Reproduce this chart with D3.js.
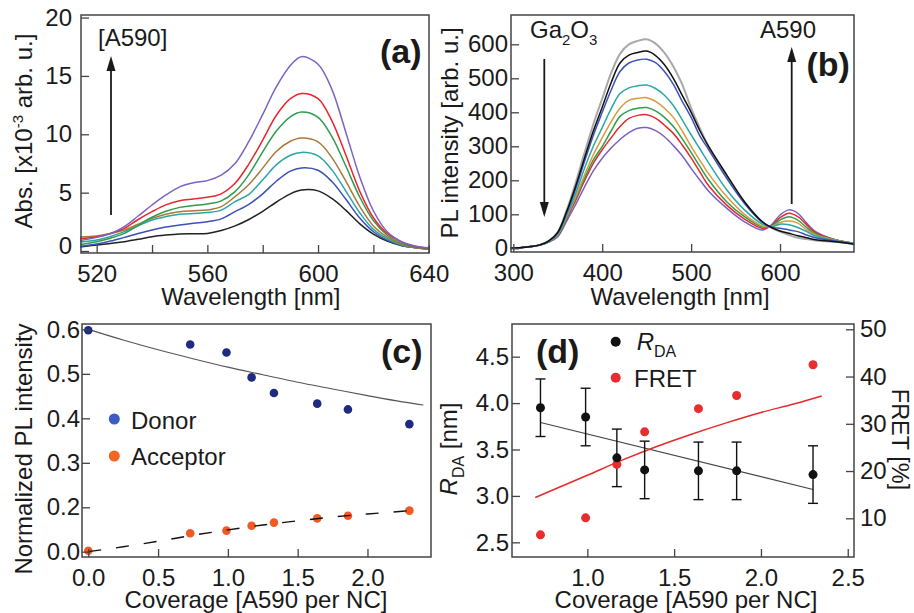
<!DOCTYPE html>
<html>
<head>
<meta charset="utf-8">
<script src="https://cdn.jsdelivr.net/npm/d3@7"></script>
<style>
  body { margin: 0; background: #fff; }
  svg text { font-family: "Liberation Sans", Arial, Helvetica, sans-serif; fill: #1a1a1a; }
</style>
</head>
<body>
<svg id="fig" width="914" height="613"></svg>
<script>
// ---------- (a) absorbance spectra of the acceptor dye ----------
const absWavelengths = [514, 520, 525, 530, 535, 540, 545, 550, 555, 560, 565, 570, 575, 580, 585, 590, 594, 600, 605, 610, 615, 620, 625, 630, 635, 640];
const absBlack  = [0.35,0.51,0.65,0.8,1.0,1.23,1.37,1.46,1.48,1.51,1.75,2.15,2.7,3.4,4.2,4.9,5.22,5.15,4.5,3.5,2.35,1.45,0.85,0.48,0.3,0.18];
const absBlue   = [0.4,0.6,0.85,1.17,1.5,1.8,2.05,2.23,2.38,2.51,2.75,3.37,4.0,4.9,6.0,6.85,7.12,6.92,5.95,4.45,2.85,1.65,0.93,0.5,0.28,0.15];
const absCyan   = [0.78,0.94,1.25,1.66,2.15,2.66,2.95,3.14,3.22,3.29,3.5,4.23,4.85,6.1,7.4,8.2,8.45,8.15,6.95,5.15,3.3,1.85,1.05,0.54,0.3,0.18];
const absBrown  = [1.2,1.29,1.5,1.8,2.3,2.8,3.15,3.37,3.45,3.51,3.8,4.66,5.7,7.1,8.55,9.4,9.68,9.35,8.0,6.0,3.85,2.15,1.2,0.58,0.3,0.18];
const absGreen  = [0.55,0.8,1.1,1.51,2.2,2.89,3.4,3.74,3.9,4.03,4.3,5.09,6.55,8.5,10.3,11.5,11.9,11.45,9.8,7.3,4.65,2.6,1.35,0.65,0.37,0.2];
const absRed    = [1.05,1.23,1.5,1.94,2.7,3.37,3.95,4.31,4.45,4.6,4.9,5.8,7.45,9.5,11.65,13.05,13.5,13.05,11.15,8.25,5.15,2.85,1.5,0.78,0.4,0.23];
const absPurple = [0.9,1.17,1.5,2.09,3.0,3.94,4.8,5.5,5.85,6.03,6.5,7.5,9.4,11.7,14.1,15.9,16.65,16.0,13.85,10.2,6.4,3.45,1.65,0.83,0.43,0.27];
const absTicksX = [520, 540, 560, 580, 600, 620, 640];
const absTicksY = [0, 5, 10, 15, 20];

// ---------- (b) PL spectra ----------
const plWavelengths = [297, 310, 320, 330, 340, 350, 360, 370, 380, 390, 400, 410, 420, 430, 440, 450, 460, 470, 480, 490, 500, 510, 520, 540, 560, 580, 590, 600, 610, 620, 630, 640, 660, 683];
const plGray   = [0,2,5,10,22,48,112,192,280,365,440,515,572,600,610,615,602,575,535,482,412,352,298,212,136,78,61,49,39,31,27,23,19,13];
const plBlack  = [0,2,5,10,22,47,108,182,265,345,415,487,545,568,576,580,567,540,500,450,400,345,298,216,137,78,62,51,44,37,31,25,20,12];
const plBlue   = [0,2,5,10,21,45,104,174,255,332,400,465,520,545,554,556,546,520,482,432,385,330,289,206,132,77,62,59,54,49,39,31,22,13];
const plCyan   = [0,2,5,10,20,42,97,160,235,300,355,410,455,472,478,480,470,450,420,378,334,292,250,172,113,71,63,71,69,61,49,36,24,14];
const plOrange = [0,2,5,10,20,40,93,150,215,275,325,372,412,435,441,443,432,412,385,345,300,258,218,152,100,66,64,76,80,74,54,39,25,14];
const plGreen  = [0,2,5,10,19,39,90,145,205,260,300,345,388,405,412,414,404,385,358,322,282,240,200,137,93,63,65,83,93,83,61,42,26,15];
const plRed    = [0,2,5,10,19,38,87,140,198,250,290,325,358,382,391,393,383,362,338,304,266,224,183,127,86,59,66,90,103,93,69,46,27,15];
const plPurple = [0,2,5,9,18,34,80,128,180,228,265,295,320,340,353,355,346,328,302,272,235,200,167,118,78,54,68,98,113,103,74,49,27,15];
const plTicksX = [300, 400, 500, 600];
const plTicksY = [0, 100, 200, 300, 400, 500, 600];

// ---------- (c) normalized PL vs coverage ----------
const coverage = [0, 0.73, 0.99, 1.17, 1.33, 1.64, 1.86, 2.30];
const donorPL = [0.598, 0.566, 0.548, 0.492, 0.457, 0.433, 0.420, 0.387];
const acceptorPL = [0.004, 0.083, 0.095, 0.117, 0.131, 0.150, 0.162, 0.185];
const fitCoverage = [0, 0.25, 0.5, 0.75, 1.0, 1.25, 1.5, 1.75, 2.0, 2.25, 2.4];
const donorFit = [0.600, 0.576, 0.554, 0.534, 0.515, 0.498, 0.481, 0.466, 0.451, 0.437, 0.430];
const acceptorFitCoverage = [0, 0.25, 0.5, 0.75, 1.0, 1.25, 1.5, 1.75, 2.0, 2.25, 2.35];
const acceptorFit = [0.0, 0.022, 0.047, 0.074, 0.098, 0.120, 0.139, 0.156, 0.170, 0.182, 0.188];
const normTicksX = [0, 0.5, 1.0, 1.5, 2.0];
const normTicksY = [0, 0.2, 0.3, 0.4, 0.5, 0.6];

// ---------- (d) donor-acceptor distance and FRET efficiency ----------
const coverageD = [0.73, 0.99, 1.17, 1.33, 1.64, 1.86, 2.30];
const rDA = [3.95, 3.85, 3.41, 3.28, 3.27, 3.27, 3.23];
const rDAErr = [0.31, 0.31, 0.31, 0.31, 0.31, 0.31, 0.31];
const fretPct = [6.5, 10.1, 21.4, 28.3, 33.2, 36.0, 42.5];
const rFitCoverage = [0.73, 2.30];
const rFit = [3.79, 3.07];
const fretFitCoverage = [0.70, 1.0, 1.2, 1.4, 1.6, 1.8, 2.0, 2.2, 2.35];
const fretFit = [14.4, 19.1, 22.3, 25.2, 27.8, 30.2, 32.4, 34.3, 35.9];
const dTicksX = [1.0, 1.5, 2.0, 2.5];
const rTicks = [2.5, 3.0, 3.5, 4.0, 4.5];
const fretTicks = [10, 20, 30, 40, 50];

// ---------- shared helpers ----------
const svg = d3.select("#fig");
const FONT = 24;
const INK = "#1a1a1a";
const FRAME = "#444";

function frame(b) {
  svg.append("rect")
    .attr("x", b.x0).attr("y", b.y0)
    .attr("width", b.x1 - b.x0).attr("height", b.y1 - b.y0)
    .attr("fill", "none").attr("stroke", FRAME).attr("stroke-width", 1.5);
}

function styleAxis(g) {
  g.attr("font-family", null).attr("font-size", null);
  g.select(".domain").remove();
  g.selectAll(".tick line").attr("stroke", FRAME).attr("stroke-width", 1.3);
  g.selectAll(".tick text").attr("font-size", FONT).attr("fill", INK);
  return g;
}

function bottomAxis(scale, ticks, fmt, y) {
  const ax = d3.axisBottom(scale).tickValues(ticks).tickFormat(fmt)
    .tickSizeInner(-8).tickSizeOuter(0).tickPadding(12);
  return styleAxis(svg.append("g").attr("transform", `translate(0,${y})`).call(ax));
}
function leftAxis(scale, ticks, fmt, x, pad) {
  const ax = d3.axisLeft(scale).tickValues(ticks).tickFormat(fmt)
    .tickSizeInner(-8).tickSizeOuter(0).tickPadding(pad);
  return styleAxis(svg.append("g").attr("transform", `translate(${x},0)`).call(ax));
}
function rightAxis(scale, ticks, fmt, x, pad) {
  const ax = d3.axisRight(scale).tickValues(ticks).tickFormat(fmt)
    .tickSizeInner(-8).tickSizeOuter(0).tickPadding(pad);
  return styleAxis(svg.append("g").attr("transform", `translate(${x},0)`).call(ax));
}

// text made of runs; each run may be raised (sup), lowered (sub) or italic
function richText(x, y, runs, opts = {}) {
  const t = svg.append("text")
    .attr("transform", `translate(${x},${y}) rotate(${opts.rotate || 0})`)
    .attr("text-anchor", opts.anchor || "start")
    .attr("font-size", opts.size || FONT)
    .attr("font-weight", opts.weight || "normal");
  let shift = 0;
  runs.forEach(r => {
    const s = t.append("tspan").text(r.text);
    const target = r.sup ? -9 : r.sub ? 7 : 0;
    if (target !== shift) { s.attr("dy", target - shift); shift = target; }
    if (r.sup || r.sub) s.attr("font-size", r.size || 15);
    if (r.italic) s.attr("font-style", "italic");
  });
  return t;
}

function arrow(x, yFrom, yTo) {
  const dir = yTo < yFrom ? 1 : -1;   // 1 = pointing up
  const head = 15, half = 4.5;
  svg.append("line").attr("x1", x).attr("x2", x)
    .attr("y1", yFrom).attr("y2", yTo + dir * head * 0.8)
    .attr("stroke", INK).attr("stroke-width", 1.8);
  svg.append("path")
    .attr("d", `M${x},${yTo} L${x - half},${yTo + dir * head} L${x + half},${yTo + dir * head} Z`)
    .attr("fill", INK);
}

function spectrum(xs, ys, x, y, color, width) {
  const pts = xs.map((v, i) => [v, ys[i]]);
  svg.append("path").datum(pts)
    .attr("fill", "none").attr("stroke", color).attr("stroke-width", width)
    .attr("stroke-linejoin", "round")
    .attr("d", d3.line().x(d => x(d[0])).y(d => y(d[1])).curve(d3.curveCatmullRom.alpha(0.5)));
}

// ================= panel (a) =================
{
  const b = { x0: 81, x1: 429, y0: 15, y1: 253 };
  const x = d3.scaleLinear().domain([514.33, 640.1]).range([b.x0, b.x1]);
  const y = d3.scaleLinear().domain([-0.17, 20.22]).range([b.y1, b.y0]);
  const series = [
    [absBlack, "#222222"], [absBlue, "#3d50b6"], [absCyan, "#2aa6a6"], [absBrown, "#a8793a"],
    [absGreen, "#2f9c4d"], [absRed, "#e8262b"], [absPurple, "#7e62bf"]
  ];
  series.forEach(([ys, c]) => spectrum(absWavelengths, ys, x, y, c, 1.5));
  bottomAxis(x, absTicksX, d => d % 40 === 0 ? d : "", b.y1);
  const ya = leftAxis(y, absTicksY, d => d, b.x0, 9);
  // lift the zero label clear of the x axis
  ya.selectAll(".tick text").filter(d => d === 0).attr("y", -5);
  frame(b);
  richText(250.8, 305, [{ text: "Wavelength [nm]" }], { anchor: "middle" });
  richText(31.5, 131, [{ text: "Abs. [x10" }, { text: "-3", sup: true }, { text: " arb. u.]" }], { anchor: "middle", rotate: -90 });
  richText(98, 46, [{ text: "[A590]" }]);
  arrow(111, 215, 56);
  richText(380, 63, [{ text: "(a)" }], { size: 34, weight: "bold" });
}

// ================= panel (b) =================
{
  const b = { x0: 511, x1: 854, y0: 15, y1: 252 };
  const x = d3.scaleLinear().domain([297.4, 683.2]).range([b.x0, b.x1]);
  const y = d3.scaleLinear().domain([-10.9, 686.2]).range([b.y1, b.y0]);
  spectrum(plWavelengths, plGray, x, y, "#a9a9a9", 2);
  const series = [
    [plPurple, "#7c5fbf"], [plRed, "#e42a2a"], [plGreen, "#2e9e4e"], [plOrange, "#d99a3c"],
    [plCyan, "#2ba7a7"], [plBlue, "#3c52b8"], [plBlack, "#111111"]
  ];
  series.forEach(([ys, c]) => spectrum(plWavelengths, ys, x, y, c, 1.5));
  bottomAxis(x, plTicksX, d => d, b.y1);
  leftAxis(y, plTicksY, d => d, b.x0, 3);
  frame(b);
  richText(680, 305, [{ text: "Wavelength [nm]" }], { anchor: "middle" });
  richText(457.5, 133, [{ text: "PL intensity [arb. u.]" }], { anchor: "middle", rotate: -90 });
  richText(530, 38, [{ text: "Ga" }, { text: "2", sub: true }, { text: "O" }, { text: "3", sub: true }]);
  arrow(544.3, 59, 217);
  richText(760, 38, [{ text: "A590" }]);
  arrow(791.7, 204, 47);
  richText(806.5, 76, [{ text: "(b)" }], { size: 34, weight: "bold" });
}

// ================= panel (c) =================
{
  const b = { x0: 82, x1: 431, y0: 324, y1: 557 };
  const x = d3.scaleLinear().domain([-0.045, 2.455]).range([b.x0, b.x1]);
  const y = d3.scaleLinear().domain([-0.024, 0.2, 0.612]).range([b.y1, 507.3, b.y0]);
  svg.append("path").datum(fitCoverage.map((v, i) => [v, donorFit[i]]))
    .attr("fill", "none").attr("stroke", "#555").attr("stroke-width", 1.1)
    .attr("d", d3.line().x(d => x(d[0])).y(d => y(d[1])).curve(d3.curveMonotoneX));
  svg.selectAll(null).data(coverage).enter().append("circle")
    .attr("cx", d => x(d)).attr("cy", (d, i) => y(donorPL[i])).attr("r", 4.3).attr("fill", "#1f2b80");
  svg.selectAll(null).data(coverage).enter().append("circle")
    .attr("cx", d => x(d)).attr("cy", (d, i) => y(acceptorPL[i])).attr("r", 4.3).attr("fill", "#f05a24");
  svg.append("path").datum(acceptorFitCoverage.map((v, i) => [v, acceptorFit[i]]))
    .attr("fill", "none").attr("stroke", "#111").attr("stroke-width", 1.4)
    .attr("stroke-dasharray", "13,15")
    .attr("d", d3.line().x(d => x(d[0])).y(d => y(d[1])).curve(d3.curveMonotoneX));
  bottomAxis(x, normTicksX, d3.format(".1f"), b.y1);
  leftAxis(y, normTicksY, d3.format(".1f"), b.x0, 2);
  frame(b);
  richText(256, 608, [{ text: "Coverage [A590 per NC]" }], { anchor: "middle" });
  richText(31.5, 449, [{ text: "Normalized PL intensity" }], { anchor: "middle", rotate: -90 });
  // legend
  svg.append("circle").attr("cx", 114.3).attr("cy", 419).attr("r", 5.5).attr("fill", "#3b5cc4");
  richText(131, 429, [{ text: "Donor" }]);
  svg.append("circle").attr("cx", 114.3).attr("cy", 456).attr("r", 5.5).attr("fill", "#f26522");
  richText(131, 465, [{ text: "Acceptor" }]);
  richText(381, 363, [{ text: "(c)" }], { size: 34, weight: "bold" });
}

// ================= panel (d) =================
{
  const b = { x0: 512, x1: 854, y0: 324, y1: 557 };
  const x = d3.scaleLinear().domain([0.566, 2.536]).range([b.x0, b.x1]);
  const yR = d3.scaleLinear().domain([2.342, 4.852]).range([b.y1, b.y0]);
  const yF = d3.scaleLinear().domain([1.81, 51.12]).range([b.y1, b.y0]);

  svg.append("path").datum(rFitCoverage.map((v, i) => [v, rFit[i]]))
    .attr("fill", "none").attr("stroke", "#444").attr("stroke-width", 1.1)
    .attr("d", d3.line().x(d => x(d[0])).y(d => yR(d[1])));
  svg.append("path").datum(fretFitCoverage.map((v, i) => [v, fretFit[i]]))
    .attr("fill", "none").attr("stroke", "#e8282a").attr("stroke-width", 1.5)
    .attr("d", d3.line().x(d => x(d[0])).y(d => yF(d[1])).curve(d3.curveMonotoneX));

  // error bars
  const eb = svg.append("g").attr("stroke", "#111").attr("stroke-width", 1.4);
  coverageD.forEach((c, i) => {
    const cx = x(c), top = yR(rDA[i] + rDAErr[i]), bot = yR(rDA[i] - rDAErr[i]);
    eb.append("line").attr("x1", cx).attr("x2", cx).attr("y1", top).attr("y2", bot);
    eb.append("line").attr("x1", cx - 5).attr("x2", cx + 5).attr("y1", top).attr("y2", top);
    eb.append("line").attr("x1", cx - 5).attr("x2", cx + 5).attr("y1", bot).attr("y2", bot);
  });
  svg.selectAll(null).data(coverageD).enter().append("circle")
    .attr("cx", d => x(d)).attr("cy", (d, i) => yF(fretPct[i])).attr("r", 4.5).attr("fill", "#e62e2e");
  svg.selectAll(null).data(coverageD).enter().append("circle")
    .attr("cx", d => x(d)).attr("cy", (d, i) => yR(rDA[i])).attr("r", 4.5).attr("fill", "#111");

  bottomAxis(x, dTicksX, d3.format(".1f"), b.y1);
  leftAxis(yR, rTicks, d3.format(".1f"), b.x0, 3);
  rightAxis(yF, fretTicks, d => d, b.x1, 6);
  frame(b);
  richText(686, 608, [{ text: "Coverage [A590 per NC]" }], { anchor: "middle" });
  richText(457, 449, [{ text: "R", italic: true }, { text: "DA", sub: true, size: 16 }, { text: " [nm]" }], { anchor: "middle", rotate: -90 });
  richText(891.5, 439.5, [{ text: "FRET [%]" }], { anchor: "middle", rotate: 90, size: 23.5 });
  // legend
  svg.append("circle").attr("cx", 615.7).attr("cy", 341.7).attr("r", 5).attr("fill", "#111");
  richText(636.7, 350, [{ text: "R", italic: true }, { text: "DA", sub: true, size: 16 }]);
  svg.append("circle").attr("cx", 615.7).attr("cy", 377.7).attr("r", 5).attr("fill", "#e62e2e");
  richText(634, 387, [{ text: "FRET" }]);
  richText(536, 363, [{ text: "(d)" }], { size: 34, weight: "bold" });
}
</script>
</body>
</html>
